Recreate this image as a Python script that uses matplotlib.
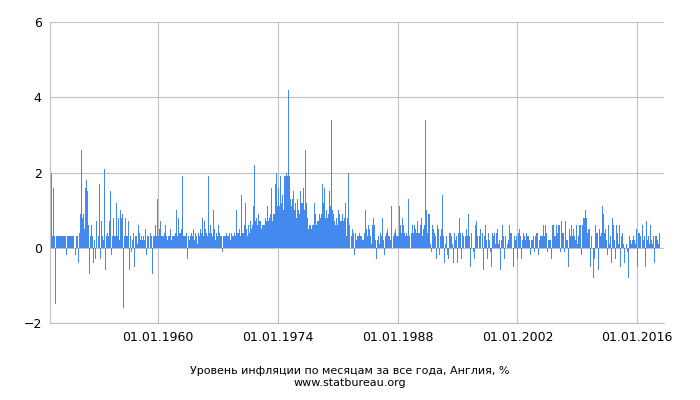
import matplotlib
matplotlib.use("Agg")
import matplotlib.pyplot as plt
import pandas as pd

start_month = "1947-06-01"
# monthly inflation, %, one row per year
yearly_values = [
    [-0.6, 0.7, 2.0, 0.3, 1.6, 0.3, 0.3],
    [-1.5, 0.3, 0.3, 0.3, 0.3, -0.3, 0.3, 0.3, 0.3, 0.3, 0.3, 0.3],
    [0.3, 0.3, 0.3, 0.0, -0.2, 0.3, 0.3, 0.3, 0.3, 0.3, 0.3, 0.3],
    [0.3, 0.3, 0.3, 0.0, -0.2, 0.3, 0.3, 0.3, -0.4, 1.2, 0.4, 0.9],
    [0.3, 2.6, 0.8, 0.9, 1.7, 0.5, 1.6, 0.8, 1.8, 1.5, 0.6, 0.6],
    [-0.7, 0.3, 0.3, 0.6, 0.3, -0.4, 1.0, 0.2, -0.3, 0.3, 0.7, 0.0],
    [0.3, 0.4, 1.7, -0.3, 0.3, 0.7, 0.3, 0.2, 0.4, 2.1, -0.6, 0.3],
    [0.3, 0.4, 1.6, 0.3, 0.7, 1.5, 0.2, -0.2, 0.3, 0.8, -0.2, 0.3],
    [0.3, 0.3, 1.2, 0.3, 0.3, 0.8, 0.2, 1.0, 0.3, 0.8, 0.9, 0.2],
    [-1.6, 0.3, 0.8, -0.2, 0.3, 0.3, 0.3, 0.7, -0.6, 0.3, 0.4, -0.1],
    [0.2, 0.4, 0.3, -0.5, 0.3, 0.6, 0.3, 0.1, 0.3, 0.6, 0.4, 0.2],
    [-0.3, 0.3, 0.2, 0.8, 0.3, 0.2, 0.5, 0.3, -0.2, 0.3, 0.8, 0.3],
    [0.0, 0.4, 0.9, 0.3, -0.7, 1.1, 0.3, 0.3, 0.6, 0.3, 0.3, 1.3],
    [0.2, 0.3, 0.5, 0.7, -0.1, 0.3, 0.3, 0.3, 0.3, 0.4, 0.6, -0.5],
    [0.3, 0.2, 0.6, 0.3, 0.3, 0.5, 0.3, 0.2, 0.3, 0.4, 0.3, 0.3],
    [0.4, 0.3, 1.0, 0.3, 0.3, 0.8, 0.4, 0.4, 0.3, 0.5, 1.9, 0.3],
    [0.3, 0.3, 1.1, 0.3, 0.4, -0.3, 0.3, 0.3, 0.2, 0.3, 0.7, 0.4],
    [0.3, 0.4, 0.5, 0.2, 0.3, 0.4, 0.3, 0.1, 0.3, 0.4, 0.3, 0.5],
    [0.3, 0.4, 0.8, -0.6, 0.3, 0.7, 0.3, 0.5, 0.4, 0.3, 0.3, 1.9],
    [0.4, 0.3, 0.6, 0.4, 0.3, 0.5, 1.0, 0.5, 0.3, 0.2, 0.4, 0.3],
    [0.3, 0.6, 0.4, 0.8, 0.3, 0.3, -0.1, 0.5, 0.3, 0.3, 1.2, 0.3],
    [0.4, 0.3, 0.7, 0.3, 0.4, 0.3, 0.2, 0.4, 0.3, 0.8, 0.3, 0.4],
    [0.5, 0.3, 1.0, 0.4, 0.3, 0.4, 0.5, 0.3, 0.3, 1.4, 0.4, 0.6],
    [0.4, 0.6, 0.8, 1.2, 0.5, 0.3, 0.6, 0.6, 0.4, 0.6, 0.7, 0.5],
    [0.6, 0.7, 1.1, 2.2, 1.0, 0.7, 0.8, 0.6, 0.5, 0.9, 0.7, 0.6],
    [0.7, 0.5, 0.6, 1.0, 0.6, 0.6, 0.9, 0.8, 0.7, 1.1, 0.8, 0.7],
    [0.8, 1.0, 0.9, 1.6, 1.0, 0.7, 0.9, 0.9, 0.8, 1.7, 2.0, 1.1],
    [1.9, 1.6, 1.1, 3.4, 1.9, 1.2, 1.7, 1.4, 1.0, 1.9, 1.6, 1.9],
    [2.0, 1.7, 1.9, 4.2, 1.9, 1.9, 1.3, 1.1, 1.1, 1.3, 1.5, 1.0],
    [1.3, 1.2, 0.8, 1.9, 1.3, 1.0, 0.9, 1.4, 1.5, 1.2, 1.4, 1.2],
    [1.6, 1.0, 1.2, 2.6, 1.2, 2.5, 0.8, 0.5, 0.6, 0.4, 0.6, 0.5],
    [0.5, 0.6, 0.6, 1.2, 0.7, 0.9, 0.6, 0.6, 0.7, 0.7, 0.9, 0.6],
    [0.8, 0.9, 0.8, 1.7, 1.2, 1.6, 4.3, 0.8, 1.0, 0.8, 0.8, 0.9],
    [1.5, 1.7, 1.1, 3.4, 1.2, 1.0, 0.9, 0.7, 0.9, 0.6, 0.8, 0.6],
    [0.6, 1.0, 0.9, 2.9, 0.7, 0.7, 0.5, 0.9, 0.7, 0.8, 0.7, 1.2],
    [0.3, 0.5, 0.8, 2.0, 0.6, 0.3, 0.0, 0.3, -0.2, 0.5, 0.4, -0.2],
    [0.3, 0.4, 0.2, 1.1, 0.3, 0.3, 0.6, 0.4, 0.3, 0.3, 0.3, 0.2],
    [0.2, 0.4, 0.2, 1.0, 0.5, 0.2, 0.3, 0.6, 0.4, 0.5, 0.3, 0.1],
    [0.5, 0.6, 0.8, 2.1, 0.6, 0.2, -0.3, 0.3, 0.2, 0.3, 0.3, 0.1],
    [0.4, 0.3, 0.2, 0.8, 0.2, 0.2, -0.2, 0.3, 0.4, 0.4, 0.5, 0.3],
    [0.4, 0.3, 0.2, 1.1, 0.4, 0.0, 0.3, 0.3, 0.4, 0.5, 0.3, 0.0],
    [0.3, 0.3, 0.4, 1.1, 0.6, 0.4, 0.1, 0.8, 0.6, 0.8, 0.4, 0.3],
    [0.4, 0.4, 0.3, 1.3, 0.5, 0.3, 0.0, 0.4, 0.5, 0.6, 0.4, 0.2],
    [0.6, 0.5, 0.4, 1.8, 0.7, 0.4, 0.2, 0.4, 0.6, 0.8, 0.5, 0.3],
    [0.5, 0.5, 0.6, 3.4, 1.0, 0.4, 0.4, 0.9, 0.8, 0.9, 0.1, -0.1],
    [0.1, 0.6, 0.5, 1.4, 0.4, 0.3, -0.3, 0.4, 0.6, 0.5, 0.3, -0.2],
    [0.3, 0.5, 0.3, 1.4, 0.3, 0.0, -0.4, 0.1, 0.3, 0.2, -0.2, -0.3],
    [0.0, 0.4, 0.4, 1.2, 0.3, 0.1, -0.4, 0.3, 0.4, 0.2, 0.0, 0.3],
    [-0.4, 0.4, 0.3, 0.8, 0.4, 0.1, -0.3, 0.4, 0.3, 0.1, 0.0, 0.3],
    [-0.3, 0.5, 0.3, 0.9, 0.2, 0.3, -0.5, 0.4, 0.4, 0.0, -0.1, 0.4],
    [-0.3, 0.6, 0.2, 0.7, 0.3, 0.0, -0.4, 0.3, 0.5, 0.1, 0.0, 0.4],
    [-0.6, 0.4, 0.3, 0.6, 0.4, 0.2, -0.3, 0.4, 0.3, 0.2, -0.1, 0.3],
    [-0.5, 0.4, 0.3, 0.6, 0.4, 0.1, -0.9, 0.4, 0.5, 0.1, 0.0, 0.2],
    [-0.6, 0.5, 0.2, 0.6, 0.3, 0.1, -0.3, 0.3, 0.6, 0.0, 0.1, 0.2],
    [-0.7, 0.6, 0.4, 0.8, 0.4, 0.0, -0.5, 0.3, 0.3, 0.2, 0.0, 0.3],
    [-0.3, 0.3, 0.4, 0.5, 0.3, -0.1, -0.3, 0.2, 0.4, 0.1, 0.3, 0.2],
    [-0.4, 0.4, 0.3, 0.4, 0.3, 0.2, -0.2, 0.4, 0.2, 0.2, 0.1, 0.3],
    [-0.1, 0.3, 0.4, 0.4, 0.4, -0.1, -0.2, 0.2, 0.3, 0.1, 0.3, 0.3],
    [-0.3, 0.6, 0.3, 0.6, 0.3, 0.4, -0.1, 0.4, 0.2, 0.2, 0.2, 0.7],
    [-0.3, 0.6, 0.4, 0.6, 0.3, 0.3, -0.8, 0.6, 0.4, 0.3, 0.6, 0.6],
    [-0.1, 0.4, 0.7, 0.4, 0.6, 0.4, -0.1, 0.7, 0.6, 0.2, 0.2, 0.7],
    [-0.5, 0.5, 0.3, 0.4, 0.6, 0.3, -0.4, 0.5, 0.3, 0.2, 0.1, 0.6],
    [0.1, 0.5, 0.3, 0.6, 0.6, 0.2, -0.2, 0.6, 0.5, 0.8, 0.8, 1.0],
    [-0.1, 0.8, 0.4, 0.4, 0.5, 0.5, -0.5, 0.6, 0.3, 0.0, -0.6, -0.8],
    [-0.3, 0.4, 0.6, 0.4, 0.4, 0.3, -0.6, 0.5, 0.3, 0.3, 0.4, 1.1],
    [0.1, 0.9, 0.4, 0.4, 0.5, 0.2, -0.2, 0.7, 0.6, 0.1, 0.3, 0.7],
    [-0.4, 0.8, 0.4, 0.6, 0.2, 0.0, -0.3, 0.6, 0.4, 0.2, 0.1, 0.6],
    [-0.5, 0.5, 0.3, 0.4, 0.0, 0.1, -0.4, 0.4, 0.0, 0.1, -0.1, 0.3],
    [-0.8, 0.3, 0.4, 0.2, 0.1, 0.2, -0.1, 0.3, 0.2, 0.1, 0.1, 0.5],
    [-0.5, 0.7, 0.4, 0.4, 0.3, 0.3, 0.0, 0.6, 0.3, 0.2, 0.3, 0.4],
    [-0.5, 0.7, 0.2, 0.4, 0.3, 0.1, 0.0, 0.6, 0.2, 0.1, 0.3, 0.3],
    [-0.4, 0.6, 0.3, 0.3, 0.2, 0.2, 0.1, 0.4],
]
x_ticks = ["1960-01-01", "1974-01-01", "1988-01-01", "2002-01-01", "2016-01-01"]
x_tick_labels = ["01.01.1960", "01.01.1974", "01.01.1988", "01.01.2002", "01.01.2016"]
y_ticks = [-2, 0, 2, 4, 6]
title = "Уровень инфляции по месяцам за все года, Англия, %"
source = "www.statbureau.org"

values = [v for row in yearly_values for v in row]
dates = pd.date_range(start_month, periods=len(values), freq="MS")

fig = plt.figure(figsize=(7, 4), dpi=100)
ax = fig.add_axes([0.0714, 0.1925, 0.8776, 0.7525])
ax.bar(dates, values, width=31, color="#4389ee", linewidth=0)
ax.set_xlim(pd.Timestamp("1947-05-15"), pd.Timestamp("2019-03-01"))
ax.set_ylim(-2, 6)
ax.set_yticks(y_ticks)
ax.set_xticks(pd.to_datetime(x_ticks))
ax.set_xticklabels(x_tick_labels)
ax.grid(True, color="#c0c0c0", linewidth=0.8)
ax.set_axisbelow(True)
for s in ["top", "right"]:
    ax.spines[s].set_visible(False)
for s in ["left", "bottom"]:
    ax.spines[s].set_color("#c0c0c0")
ax.tick_params(axis="both", labelsize=9, length=0, pad=6)
fig.text(0.5, 0.065, title, ha="center", fontsize=8)
fig.text(0.5, 0.035, source, ha="center", fontsize=8)
fig.savefig("out.png", dpi=100)
